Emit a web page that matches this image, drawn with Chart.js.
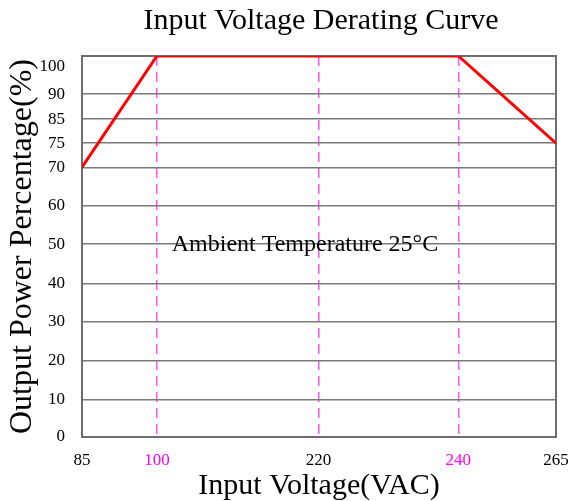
<!DOCTYPE html>
<html>
<head>
<meta charset="utf-8">
<script src="https://cdn.jsdelivr.net/npm/chart.js@4/dist/chart.umd.min.js"></script>
<style>
  html, body { margin: 0; padding: 0; background: #fff; }
  #wrap { width: 568px; height: 501px; position: relative; }
</style>
</head>
<body>
<div id="wrap"><canvas id="derating"></canvas></div>
<script>
// dados da curva
const voltages = [85, 100, 240, 265];
const powerPct = [70, 100, 100, 75];

// rótulos dos eixos
const xTickValues = [85, 100, 220, 240, 265];
const xTickColors = ['#000000', '#ff00ff', '#000000', '#ff00ff', '#000000'];
const yTickValues = [0, 10, 20, 30, 40, 50, 60, 70, 75, 85, 90, 100];

// o desenho original não é linear: posição relativa de cada marca no eixo
const xTickStops = [0, 0.158, 0.499, 0.794, 1];
const yTickStops = [0, 0.099, 0.201, 0.302, 0.403, 0.506, 0.608, 0.708, 0.771, 0.834, 0.9, 1];

// converte um valor real para a posição relativa (interpolação por trechos)
function toAxis(v, values, stops) {
    for (let i = 1; i < values.length; i++) {
        if (v <= values[i]) {
            const t = (v - values[i - 1]) / (values[i] - values[i - 1]);
            return stops[i - 1] + t * (stops[i] - stops[i - 1]);
        }
    }
    return stops[stops.length - 1];
}

const serif = "'Liberation Serif', 'Times New Roman', serif";

// título, moldura e texto da temperatura
const extrasPlugin = {
    id: 'extras',
    beforeDatasetsDraw(chart) {
        const { ctx, chartArea: a } = chart;
        ctx.save();
        ctx.strokeStyle = '#6e6e6e';
        ctx.lineWidth = 2;
        ctx.strokeRect(a.left, a.top, a.right - a.left, a.bottom - a.top);
        ctx.restore();
    },
    afterDraw(chart) {
        const { ctx, chartArea: a, scales } = chart;
        ctx.save();
        ctx.fillStyle = '#000';
        ctx.font = '30px ' + serif;
        ctx.textAlign = 'center';
        ctx.textBaseline = 'middle';
        ctx.fillText('Input Voltage Derating Curve', (a.left + a.right) / 2 + 2, 21);

        ctx.font = '24px ' + serif;
        ctx.textAlign = 'left';
        const tx = scales.x.getPixelForValue(toAxis(111, xTickValues, xTickStops));
        const ty = scales.y.getPixelForValue(toAxis(50, yTickValues, yTickStops));
        ctx.fillText('Ambient Temperature 25°C', tx, ty);
        ctx.restore();
    }
};

const points = voltages.map((v, i) => ({
    x: toAxis(v, xTickValues, xTickStops),
    y: toAxis(powerPct[i], yTickValues, yTickStops)
}));

new Chart(document.getElementById('derating'), {
    type: 'line',
    data: {
        datasets: [{
            data: points,
            borderColor: '#ff0000',
            borderWidth: 3,
            pointRadius: 0,
            tension: 0
        }]
    },
    options: {
        responsive: true,
        maintainAspectRatio: false,
        animation: false,
        layout: { padding: { top: 56, right: 0, left: 0, bottom: 0 } },
        plugins: { legend: { display: false }, tooltip: { enabled: false } },
        scales: {
            x: {
                type: 'linear', min: 0, max: 1,
                afterBuildTicks: scale => { scale.ticks = xTickStops.map(v => ({ value: v })); },
                afterFit: scale => {
                    scale.height = 64;
                    scale.paddingLeft = 0;
                    scale.paddingRight = 12;
                },
                ticks: {
                    autoSkip: false, maxRotation: 0, padding: 13,
                    font: { family: serif, size: 17 },
                    color: c => xTickColors[c.index],
                    callback: (val, i) => String(xTickValues[i])
                },
                grid: {
                    drawTicks: false,
                    lineWidth: 1.5,
                    color: c => (c.index === 0 || c.index === xTickValues.length - 1) ? 'rgba(0,0,0,0)' : '#ff55ff'
                },
                border: { display: false, dash: [10, 6] },
                title: {
                    display: true, text: 'Input Voltage(VAC)', color: '#000',
                    font: { family: serif, size: 30, lineHeight: 1 },
                    padding: { top: 0, bottom: 0 }
                }
            },
            y: {
                type: 'linear', min: 0, max: 1,
                afterBuildTicks: scale => { scale.ticks = yTickStops.map(v => ({ value: v })); },
                afterFit: scale => { scale.width = 82; },
                ticks: {
                    autoSkip: false, padding: 17,
                    font: { family: serif, size: 17 },
                    color: '#000',
                    callback: (val, i) => i === yTickValues.length - 1 ? ['', String(yTickValues[i])] : String(yTickValues[i])
                },
                grid: { drawTicks: false, lineWidth: 1.5, color: '#7a7a7a' },
                border: { display: false },
                title: {
                    display: true, text: 'Output Power Percentage(%)', color: '#000',
                    font: { family: serif, size: 32, lineHeight: 1 },
                    padding: { top: 7, bottom: 0 }
                }
            }
        }
    },
    plugins: [extrasPlugin]
});
</script>
</body>
</html>
